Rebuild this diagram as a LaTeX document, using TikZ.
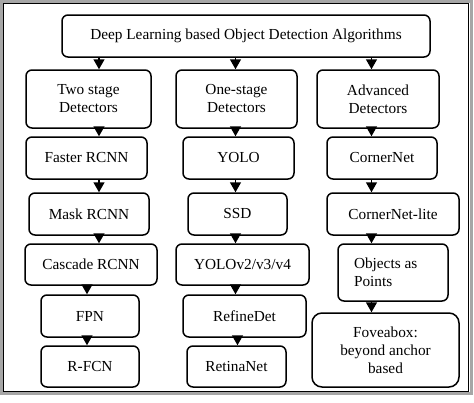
\documentclass[tikz,border=0pt]{standalone}
\usepackage{fontspec}
\setmainfont{Liberation Serif}
\usetikzlibrary{arrows.meta}
\begin{document}
\begin{tikzpicture}[x=1pt,y=-1pt,
  bx/.style={draw=black, line width=1.5pt, rounded corners=6pt, inner sep=0pt,
    align=center, font=\fontsize{15.3}{18}\selectfont},
  arr/.style={line width=1.5pt, -{Triangle[width=11pt,length=10pt]}}]
\useasboundingbox[fill=white] (0,0) rectangle (474,402);
\draw[gray!70, line width=3pt] (1.5,1.5) rectangle (471.5,393.5);
\draw[black, line width=1.2pt] (3.4,3.4) rectangle (468.6,391.6);
% nodes
\node[bx, minimum width=368pt, minimum height=42pt] (top) at (246,36) {Deep Learning based Object Detection Algorithms};
\node[bx, minimum width=125pt, minimum height=58pt] (tsd) at (88.5,99) {Two stage\\Detectors};
\node[bx, minimum width=121pt, minimum height=58pt] (osd) at (236.5,99) {One-stage\\Detectors};
\node[bx, minimum width=122pt, minimum height=58pt] (adv) at (378,99) {Advanced\\Detectors};
\node[bx, minimum width=121pt, minimum height=42pt] (faster) at (86.5,158) {Faster RCNN};
\node[bx, minimum width=111pt, minimum height=42pt] (yolo) at (238.5,158) {YOLO};
\node[bx, minimum width=110pt, minimum height=42pt] (corner) at (382,158) {CornerNet};
\node[bx, minimum width=120pt, minimum height=42pt] (mask) at (89,214) {Mask RCNN};
\node[bx, minimum width=99pt, minimum height=42pt] (ssd) at (237.5,214) {SSD};
\node[bx, minimum width=132pt, minimum height=42pt] (clite) at (393,214) {CornerNet-lite};
\node[bx, minimum width=132pt, minimum height=41pt] (cascade) at (91,264.5) {Cascade RCNN};
\node[bx, minimum width=133pt, minimum height=41pt] (yolov) at (242.5,264.5) {YOLOv2/v3/v4};
\node[bx, align=flush left, text width=78pt, inner xsep=16pt, minimum height=57pt] (objects) at (393,272.5) {Objects as\\Points};
\node[bx, minimum width=98pt, minimum height=42pt] (fpn) at (90,316) {FPN};
\node[bx, minimum width=123pt, minimum height=42pt] (refine) at (244.5,316) {RefineDet};
\node[bx, rounded corners=10pt, minimum width=147pt, minimum height=74pt] (fovea) at (385.5,350) {Foveabox:\\beyond anchor\\based};
\node[bx, minimum width=98pt, minimum height=41pt] (rfcn) at (90,366.5) {R-FCN};
\node[bx, minimum width=99pt, minimum height=41pt] (retina) at (236.5,366.5) {RetinaNet};
% column guides
\coordinate (c1) at (99,0);
\coordinate (c1b) at (87,0);
\coordinate (c2) at (235.5,0);
\coordinate (c2b) at (237.5,0);
\coordinate (c3) at (371.5,0);
% connectors
\draw[arr] (top.south -| c1) -- (tsd.north -| c1);
\draw[arr] (top.south -| c2) -- (osd.north -| c2);
\draw[arr] (top.south -| c3) -- (adv.north -| c3);
\draw[arr] (tsd.south -| c1) -- (faster.north -| c1);
\draw[arr] (faster.south -| c1) -- (mask.north -| c1);
\draw[arr] (mask.south -| c1) -- (cascade.north -| c1);
\draw[arr] (cascade.south -| c1b) -- (fpn.north -| c1b);
\draw[arr] (fpn.south -| c1b) -- (rfcn.north -| c1b);
\draw[arr] (osd.south -| c2) -- (yolo.north -| c2);
\draw[arr] (yolo.south -| c2) -- (ssd.north -| c2);
\draw[arr] (ssd.south -| c2) -- (yolov.north -| c2);
\draw[arr] (yolov.south -| c2) -- (refine.north -| c2);
\draw[arr] (refine.south -| c2b) -- (retina.north -| c2b);
\draw[arr] (adv.south -| c3) -- (corner.north -| c3);
\draw[arr] (corner.south -| c3) -- (clite.north -| c3);
\draw[arr] (clite.south -| c3) -- (objects.north -| c3);
\draw[arr] (objects.south -| c3) -- (fovea.north -| c3);
\end{tikzpicture}
\end{document}
